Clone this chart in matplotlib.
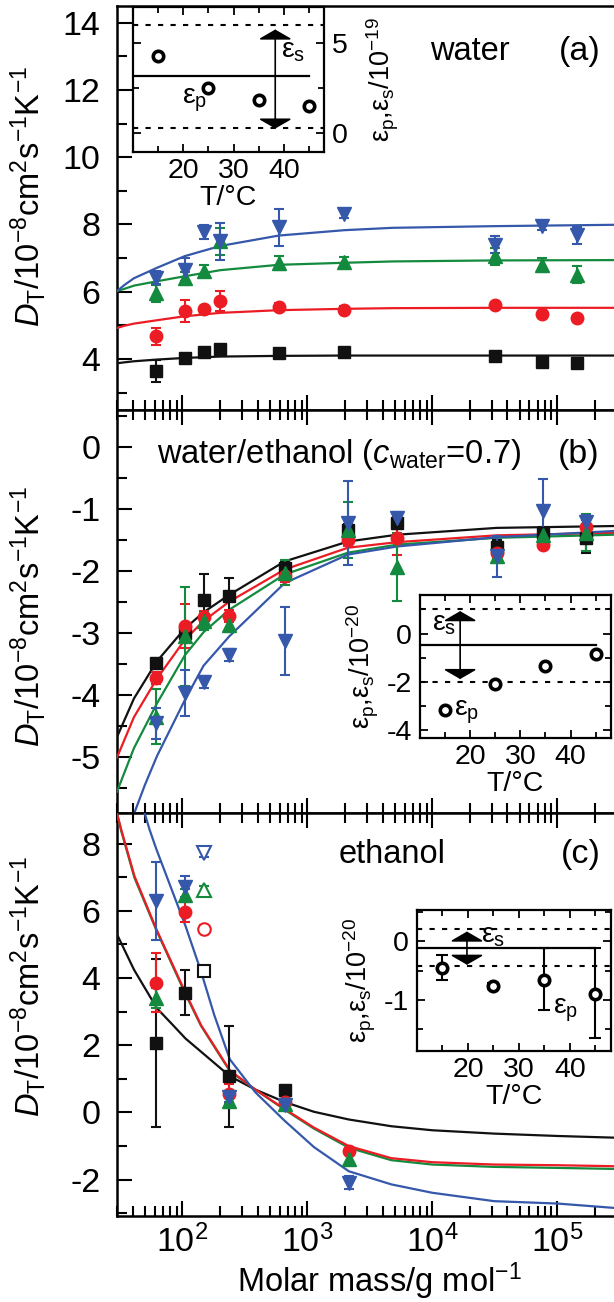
import numpy as np
import matplotlib.pyplot as plt
from matplotlib.ticker import LogLocator, MultipleLocator, FixedLocator, NullFormatter

plt.rcParams['font.family'] = ['Liberation Sans', 'DejaVu Sans']
plt.rcParams['mathtext.fontset'] = 'custom'
plt.rcParams['mathtext.rm'] = 'Liberation Sans'
plt.rcParams['mathtext.it'] = 'Liberation Sans:italic'
plt.rcParams['mathtext.bf'] = 'Liberation Sans:bold'
plt.rcParams['axes.unicode_minus'] = False

W, H = 614, 1302
BLACK, RED, GREEN, BLUE = '#111111', '#ec1c24', '#138a3e', '#3558aa'

# ---------------- panel (a): water ----------------
Ma = [62, 105, 148, 200, 590, 1980, 32000, 76000, 145000]
a_black = [3.63, 4.03, 4.22, 4.30, 4.17, 4.22, 4.09, 3.90, 3.88]
a_black_err = [0.33, 0.10, 0.10, 0.08, 0.08, 0.08, 0.08, 0.08, 0.08]
a_red = [4.67, 5.42, 5.48, 5.73, 5.55, 5.47, 5.60, 5.35, 5.22]
a_red_err = [0.25, 0.33, 0.10, 0.30, 0.10, 0.10, 0.10, 0.08, 0.08]
a_green = [5.95, 6.40, 6.63, 7.50, 6.85, 6.87, 7.05, 6.80, 6.50]
a_green_err = [0.25, 0.20, 0.15, 0.40, 0.20, 0.15, 0.25, 0.20, 0.25]
a_blue = [6.42, 6.66, 7.78, 7.50, 7.92, 8.30, 7.40, 7.95, 7.68]
a_blue_err = [0.20, 0.35, 0.20, 0.55, 0.55, 0.10, 0.25, 0.10, 0.25]

fa_M = [30, 34.7, 41, 62.6, 105, 201, 591, 1980, 4800, 31400, 285000]
fa_black = [3.87, 3.90, 3.93, 3.98, 4.03, 4.07, 4.09, 4.10, 4.10, 4.10, 4.10]
fa_red = [4.92, 4.99, 5.05, 5.15, 5.27, 5.37, 5.45, 5.49, 5.51, 5.52, 5.52]
fa_green = [6.02, 6.09, 6.18, 6.31, 6.46, 6.64, 6.80, 6.86, 6.90, 6.93, 6.94]
fa_blue = [6.02, 6.21, 6.40, 6.71, 7.06, 7.36, 7.67, 7.83, 7.90, 7.95, 7.99]

# ---------------- panel (b): water/ethanol ----------------
Mb = [62, 106, 148, 237, 659, 2110, 5200, 32800, 77000, 170000]
b_black = [-3.48, -2.99, -2.46, -2.40, -1.95, -1.33, -1.22, -1.60, -1.38, -1.47]
b_black_err = [0.05, 0.10, 0.42, 0.30, 0.10, 0.10, 0.10, 0.10, 0.10, 0.24]
b_red = [-3.72, -2.88, -2.74, -2.72, -2.08, -1.49, -1.46, -1.70, -1.57, -1.28]
b_red_err = [0.10, 0.35, 0.10, 0.10, 0.10, 0.10, 0.28, 0.10, 0.05, 0.10]
b_green = [-4.34, -3.05, -2.80, -2.87, -2.02, -1.33, -1.93, -1.76, -1.41, -1.38]
b_green_err = [0.45, 0.80, 0.15, 0.10, 0.20, 0.45, 0.55, 0.10, 0.10, 0.30]
b_blue = [-4.45, -3.96, -3.78, -3.35, -3.12, -1.22, -1.14, -1.76, -1.02, -1.20]
b_blue_err = [0.25, 0.37, 0.10, 0.10, 0.55, 0.68, 0.10, 0.33, 0.50, 0.10]

fb_M = [30, 41, 62.6, 105, 148, 237, 659, 2113, 5225, 32800, 285000]
fb_black = [-4.67, -4.05, -3.45, -2.92, -2.66, -2.38, -1.84, -1.52, -1.41, -1.30, -1.27]
fb_red = [-5.00, -4.35, -3.73, -3.10, -2.80, -2.49, -1.97, -1.62, -1.53, -1.42, -1.38]
fb_green = [-5.55, -4.85, -4.13, -3.35, -2.98, -2.62, -2.05, -1.70, -1.57, -1.46, -1.41]
fb_M_blue = [41.2, 50, 62.6, 105, 148, 237, 659, 2113, 5225, 32800, 285000]
fb_blue = [-5.90, -5.45, -4.98, -4.07, -3.52, -3.05, -2.19, -1.73, -1.60, -1.45, -1.35]

# ---------------- panel (c): ethanol ----------------
Mc = [62, 106, 238, 660, 2150]
c_black = [2.07, 3.56, 1.08, 0.66]
c_black_err = [2.50, 0.67, 1.50, 0.10]
c_red = [3.86, 5.97, 0.54, 0.30, -1.15]
c_red_err = [0.88, 0.31, 0.30, 0.10, 0.10]
c_green = [3.41, 6.46, 0.35, 0.25, -1.40]
c_green_err = [0.30, 0.20, 0.20, 0.10, 0.15]
c_blue = [6.29, 6.72, 0.46, 0.23, -2.09]
c_blue_err = [1.15, 0.30, 0.15, 0.10, 0.20]
# open symbols
Mc_open = [150]
c_open = {'black': 4.22, 'red': 5.45, 'green': 6.63, 'blue': 7.72}

fc_M_black = [30, 41, 62.6, 84, 106, 240, 384, 660, 1130, 2150, 4700, 10000, 31400, 100000, 285000]
fc_black = [5.30, 4.25, 3.10, 2.60, 2.20, 1.08, 0.68, 0.31, 0.02, -0.21, -0.41, -0.53, -0.63, -0.70, -0.75]
fc_M_rg = [30, 32.4, 41.4, 62, 106, 141, 240, 384, 660, 1130, 2150, 4700, 10000, 31400, 100000, 285000]
fc_red = [8.90, 8.42, 7.03, 5.45, 3.56, 2.60, 1.25, 0.68, 0.10, -0.45, -1.00, -1.36, -1.48, -1.55, -1.57, -1.60]
fc_green = [8.90, 8.38, 6.98, 5.42, 3.52, 2.58, 1.23, 0.68, 0.08, -0.48, -1.05, -1.42, -1.55, -1.62, -1.65, -1.68]
fc_M_blue = [50, 54.6, 62, 106, 141, 180, 240, 384, 660, 1130, 2150, 4700, 10000, 31400, 100000, 285000]
fc_blue = [8.90, 8.42, 7.83, 5.55, 4.20, 2.90, 1.58, 0.60, -0.25, -1.03, -1.75, -2.14, -2.39, -2.64, -2.71, -2.84]

# ---------------- insets ----------------
T_in = [15, 25, 35, 45]
ins_a = [4.30, 2.50, 1.85, 1.48]
ins_b = [-3.16, -2.10, -1.34, -0.87]
ins_c = [-0.45, -0.77, -0.66, -0.90]
ins_c_err_lo = [0.21, 0.05, 0.51, 0.76]
ins_c_err_hi = [0.21, 0.05, 0.55, 0.79]
# mean line, dashed bounds
line_a, bnd_a = 3.15, (0.3, 6.0)
line_b, bnd_b = -0.48, (-2.0, 1.0)
line_c, bnd_c = -0.11, (-0.42, 0.21)

fig = plt.figure(figsize=(W / 100, H / 100), dpi=100)


def fx(px):
    return px / W


def fy(py):
    return 1 - py / H


L = fx(117)
ax_a = fig.add_axes([L, fy(410), 1 - L, fy(6) - fy(410)])
ax_b = fig.add_axes([L, fy(813.3), 1 - L, fy(410) - fy(813.3)])
ax_c = fig.add_axes([L, fy(1216.3), 1 - L, fy(813.3) - fy(1216.3)])

TICK_FS = 24.5
TEXT_FS = 23.5


def style_main(ax, ylim, major, minor):
    ax.set_xscale('log')
    ax.set_xlim(30, 2.85e5)
    ax.set_ylim(*ylim)
    ax.yaxis.set_major_locator(MultipleLocator(major))
    ax.yaxis.set_minor_locator(MultipleLocator(minor))
    ax.xaxis.set_major_locator(LogLocator(base=10))
    ax.xaxis.set_minor_locator(LogLocator(base=10, subs=np.arange(2, 10)))
    ax.xaxis.set_minor_formatter(NullFormatter())
    ax.spines['right'].set_visible(False)
    for s in ax.spines.values():
        s.set_linewidth(1.8)
    ax.tick_params(which='both', direction='in', width=1.5, labelsize=TICK_FS, right=False)
    ax.tick_params(axis='y', which='both', pad=12)
    ax.tick_params(which='major', length=11)
    ax.tick_params(which='minor', length=7)


style_main(ax_a, (2.48, 14.5), 2, 1)
style_main(ax_b, (-5.9, 0.6), 1, 0.5)
style_main(ax_c, (-3.09, 8.9), 2, 1)
ax_a.tick_params(axis='x', which='both', top=False, bottom=True, labelbottom=False)
ax_b.tick_params(axis='x', which='both', top=True, bottom=True, labelbottom=False)
ax_c.tick_params(axis='x', which='both', top=True, bottom=True, pad=6)

ekw = dict(linestyle='none', elinewidth=1.5, capsize=3.5, capthick=1.5)


def draw_series(ax, M, vals, errs, color, marker, ms):
    ax.errorbar(M[:len(vals)], vals, yerr=errs, color=color, ecolor=color,
                marker=marker, ms=ms, mec=color, mfc=color, zorder=4, **ekw)


# panel (a)
for fy_vals, col in [(fa_black, BLACK), (fa_red, RED), (fa_green, GREEN), (fa_blue, BLUE)]:
    ax_a.plot(fa_M, fy_vals, color=col, lw=1.6, zorder=3)
draw_series(ax_a, Ma, a_black, a_black_err, BLACK, 's', 8)
draw_series(ax_a, Ma, a_red, a_red_err, RED, 'o', 9)
draw_series(ax_a, Ma, a_green, a_green_err, GREEN, '^', 10)
draw_series(ax_a, Ma, a_blue, a_blue_err, BLUE, 'v', 10)

# panel (b)
ax_b.plot(fb_M, fb_black, color=BLACK, lw=1.6, zorder=3)
ax_b.plot(fb_M, fb_red, color=RED, lw=1.6, zorder=3)
ax_b.plot(fb_M, fb_green, color=GREEN, lw=1.6, zorder=3)
ax_b.plot(fb_M_blue, fb_blue, color=BLUE, lw=1.6, zorder=3)
draw_series(ax_b, Mb, b_black, b_black_err, BLACK, 's', 8)
draw_series(ax_b, Mb, b_red, b_red_err, RED, 'o', 9)
draw_series(ax_b, Mb, b_green, b_green_err, GREEN, '^', 10)
draw_series(ax_b, Mb, b_blue, b_blue_err, BLUE, 'v', 10)

# panel (c)
ax_c.plot(fc_M_black, fc_black, color=BLACK, lw=1.6, zorder=3)
ax_c.plot(fc_M_rg, fc_green, color=GREEN, lw=1.6, zorder=3)
ax_c.plot(fc_M_rg, fc_red, color=RED, lw=1.6, zorder=3)
ax_c.plot(fc_M_blue, fc_blue, color=BLUE, lw=1.6, zorder=3)
draw_series(ax_c, Mc, c_black, c_black_err, BLACK, 's', 8)
draw_series(ax_c, Mc, c_red, c_red_err, RED, 'o', 9)
draw_series(ax_c, Mc, c_green, c_green_err, GREEN, '^', 10)
draw_series(ax_c, Mc, c_blue, c_blue_err, BLUE, 'v', 10)
for key, col, mk, ms in [('black', BLACK, 's', 8), ('red', RED, 'o', 9),
                         ('green', GREEN, '^', 10), ('blue', BLUE, 'v', 10)]:
    ax_c.errorbar(Mc_open, [c_open[key]], yerr=0.12, color=col, marker=mk, ms=ms,
                  mfc='white', mec=col, mew=1.5, zorder=4, **ekw)

fig.text(fx(379), fy(1292), 'Molar mass/g mol$^{-1}$', ha='center', va='baseline', fontsize=TEXT_FS)

ylab = r'$D_\mathrm{T}$/10$^{-8}$cm$^2$s$^{-1}$K$^{-1}$'
fig.text(fx(28), fy(196), ylab, rotation=90, ha='center', va='center', fontsize=TEXT_FS)
fig.text(fx(28), fy(616), ylab, rotation=90, ha='center', va='center', fontsize=TEXT_FS)
fig.text(fx(28), fy(986), ylab, rotation=90, ha='center', va='center', fontsize=TEXT_FS)

ax_a.text(0.71, 0.866, 'water', transform=ax_a.transAxes, ha='center', va='baseline', fontsize=TEXT_FS)
ax_a.text(0.974, 0.866, '(a)', transform=ax_a.transAxes, ha='right', va='baseline', fontsize=TEXT_FS + 1)
ax_b.text(0.08, 0.868, r'water/ethanol ($c_\mathrm{water}$=0.7)', transform=ax_b.transAxes,
          ha='left', va='baseline', fontsize=TEXT_FS)
ax_b.text(0.970, 0.868, '(b)', transform=ax_b.transAxes, ha='right', va='baseline', fontsize=TEXT_FS + 1)
ax_c.text(0.554, 0.876, 'ethanol', transform=ax_c.transAxes, ha='center', va='baseline', fontsize=TEXT_FS)
ax_c.text(0.974, 0.876, '(c)', transform=ax_c.transAxes, ha='right', va='baseline', fontsize=TEXT_FS + 1)

# ---------------- inset drawing ----------------
INS_FS = 20.5


def make_inset(rect, ylim, ymaj, ymin, side):
    ax = fig.add_axes(rect)
    ax.set_xlim(10, 48)
    ax.set_ylim(*ylim)
    ax.xaxis.set_major_locator(FixedLocator([20, 30, 40]))
    ax.xaxis.set_minor_locator(FixedLocator([15, 25, 35, 45]))
    ax.yaxis.set_major_locator(MultipleLocator(ymaj))
    ax.yaxis.set_minor_locator(MultipleLocator(ymin))
    for s in ax.spines.values():
        s.set_linewidth(1.6)
    ax.tick_params(which='both', direction='in', width=1.3, labelsize=INS_FS,
                   top=True, bottom=True, left=True, right=True)
    ax.tick_params(which='major', length=6)
    ax.tick_params(which='minor', length=4)
    ax.tick_params(axis='x', pad=4)
    ax.tick_params(axis='y', pad=6)
    if side == 'right':
        ax.tick_params(axis='y', labelleft=False, labelright=True)
        ax.yaxis.set_label_position('right')
    ax.set_xlabel('T/°C', fontsize=INS_FS, labelpad=1)
    return ax


def fill_inset(ax, vals, line, bnd, tip, xarrow, elo=None, ehi=None):
    ax.axhline(bnd[0], color='black', lw=1.5, ls=(0, (2.5, 3.5)), zorder=2)
    ax.axhline(bnd[1], color='black', lw=1.5, ls=(0, (2.5, 3.5)), zorder=2)
    ax.plot([10, 45], [line, line], color='black', lw=1.6, zorder=2)
    ax.annotate('', xy=(xarrow, tip[1]), xytext=(xarrow, tip[0]),
                arrowprops=dict(arrowstyle='<|-|>,head_width=0.52,head_length=0.3',
                                color='black', lw=1.2, mutation_scale=20,
                                shrinkA=0, shrinkB=0), zorder=3)
    if elo is not None:
        ax.errorbar(T_in, vals, yerr=[elo, ehi], color='black', linestyle='none',
                    elinewidth=1.5, capsize=4, capthick=1.5, zorder=3)
    ax.plot(T_in, vals, 'o', ms=7.5, mfc='white', mec='black', mew=2.6, zorder=4)


in_a = make_inset([fx(133), fy(152), fx(324) - fx(133), fy(7) - fy(152)], (-1.05, 7.0), 5, 2.5, 'right')
fill_inset(in_a, ins_a, line_a, bnd_a, (0.25, 5.75), 38.3)
in_a.set_ylabel(r'ε$_\mathrm{p}$,ε$_\mathrm{s}$/10$^{-19}$', fontsize=INS_FS - 1, rotation=90, labelpad=12)
in_a.text(39.5, 4.17, r'ε$_\mathrm{s}$', fontsize=INS_FS, va='baseline', ha='left')
in_a.text(19.8, 1.63, r'ε$_\mathrm{p}$', fontsize=INS_FS, va='baseline', ha='left')

in_b = make_inset([fx(420), fy(738.3), fx(610.7) - fx(420), fy(595) - fy(738.3)], (-4.35, 1.6), 2, 1, 'left')
fill_inset(in_b, ins_b, line_b, bnd_b, (-1.89, 0.93), 18)
in_b.set_ylabel(r'ε$_\mathrm{p}$,ε$_\mathrm{s}$/10$^{-20}$', fontsize=INS_FS - 1, labelpad=4)
in_b.text(12.4, 0.14, r'ε$_\mathrm{s}$', fontsize=INS_FS, va='baseline', ha='left')
in_b.text(16.7, -3.42, r'ε$_\mathrm{p}$', fontsize=INS_FS, va='baseline', ha='left')

in_c = make_inset([fx(417), fy(1051), fx(610.7) - fx(417), fy(910) - fy(1051)], (-1.88, 0.54), 1, 0.5, 'left')
fill_inset(in_c, ins_c, line_c, bnd_c, (-0.40, 0.17), 19.8, ins_c_err_lo, ins_c_err_hi)
in_c.set_ylabel(r'ε$_\mathrm{p}$,ε$_\mathrm{s}$/10$^{-20}$', fontsize=INS_FS - 1, labelpad=4)
in_c.text(22.5, -0.02, r'ε$_\mathrm{s}$', fontsize=INS_FS, va='baseline', ha='left')
in_c.text(36.7, -1.23, r'ε$_\mathrm{p}$', fontsize=INS_FS, va='baseline', ha='left')

fig.savefig('out.png', dpi=100)
